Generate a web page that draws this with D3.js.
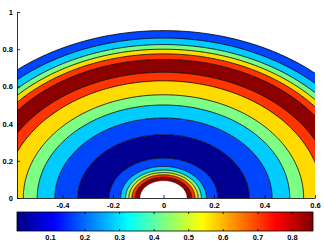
<!DOCTYPE html>
<meta charset="utf-8">
<html>
<head>
  <title>Contour plot</title>
  <script src="https://cdn.jsdelivr.net/npm/d3@7"></script>
  <style>
    body { margin: 0; background: #fff; }
    text { font-family: Arial, "Liberation Sans", sans-serif; font-size: 7.5px; font-weight: bold; fill: #000; }
    .axis path, .axis line { stroke: #000; stroke-width: 0.8px; }
  </style>
</head>
<body>
<div id="chart"></div>
<script>
// radius of each contour edge, from the hole outwards
var ringEdges = [0.093, 0.112, 0.125, 0.137, 0.15, 0.17, 0.215, 0.34, 0.43, 0.50,
                 0.555, 0.63, 0.676, 0.745, 0.775, 0.80, 0.825, 0.86, 0.9];
// colour band of each ring between two edges
var ringBand = [6, 5, 4, 3, 2, 1, 0, 1, 2, 3, 4, 5, 6, 5, 4, 3, 2, 1];
// value on the colour scale used to fill each band
var bandValue = [0.02, 0.17, 0.283, 0.43, 0.57, 0.71, 0.85];

var xTicks = [-0.4, -0.2, 0, 0.2, 0.4, 0.6];
var yTicks = [0, 0.2, 0.4, 0.6, 0.8, 1];
var cTicks = [0.1, 0.2, 0.3, 0.4, 0.5, 0.6, 0.7, 0.8];
var cRange = [0.0045, 0.861];

var width = 324, height = 247;

var x = d3.scaleLinear().domain([-0.58, 0.6]).range([17, 315]);
var y = d3.scaleLinear().domain([0, 1]).range([198, 12]);
var cx = d3.scaleLinear().domain(cRange).range([17, 313]);

// jet colormap
var jetStops = [0, 0.125, 0.375, 0.625, 0.875, 1];
var jet = d3.scaleLinear()
  .domain(jetStops.map(function(t) { return cRange[0] + t * (cRange[1] - cRange[0]); }))
  .range(["#000080", "#0000ff", "#00ffff", "#ffff00", "#ff0000", "#800000"])
  .clamp(true);

var svg = d3.select("#chart").append("svg")
  .attr("width", width)
  .attr("height", height);

svg.append("clipPath").attr("id", "plotclip")
  .append("rect")
  .attr("x", x(-0.58)).attr("y", y(1))
  .attr("width", x(0.6) - x(-0.58)).attr("height", y(0) - y(1));

var line = d3.line();
var angles = d3.range(0, 181).map(function(a) { return a * Math.PI / 180; });

function arcPoints(r) {
  return angles.map(function(t) { return [x(r * Math.cos(t)), y(r * Math.sin(t))]; });
}

var plot = svg.append("g").attr("clip-path", "url(#plotclip)");

plot.selectAll("path.ring")
  .data(ringBand)
  .enter().append("path")
  .attr("class", "ring")
  .attr("d", function(b, i) {
    var outer = arcPoints(ringEdges[i + 1]);
    var inner = arcPoints(ringEdges[i]).reverse();
    return line(outer.concat(inner)) + "Z";
  })
  .style("fill", function(b) { return jet(bandValue[b]); })
  .style("stroke", "none");

plot.selectAll("path.contour")
  .data(ringEdges)
  .enter().append("path")
  .attr("class", "contour")
  .attr("d", function(r) { return line(arcPoints(r)); })
  .style("fill", "none")
  .style("stroke", "#000")
  .style("stroke-width", function(r, i) { return i == 0 ? 0.3 : 0.8; });

// axes
svg.append("g").attr("class", "axis")
  .attr("transform", "translate(" + x(-0.58) + ",0)")
  .call(d3.axisLeft(y).tickValues(yTicks).tickSize(-3).tickSizeOuter(0).tickPadding(4)
    .tickFormat(function(d) { return String(d); }));

svg.append("g").attr("class", "axis")
  .attr("transform", "translate(0," + y(0) + ")")
  .call(d3.axisBottom(x).tickValues(xTicks).tickSize(-3).tickSizeOuter(0).tickPadding(5)
    .tickFormat(function(d) { return String(d); }));

// colorbar
var grad = svg.append("defs").append("linearGradient").attr("id", "jetgrad");
grad.selectAll("stop")
  .data(d3.range(0, 65))
  .enter().append("stop")
  .attr("offset", function(i) { return (i / 64 * 100) + "%"; })
  .attr("stop-color", function(i) { return jet(cRange[0] + i / 64 * (cRange[1] - cRange[0])); });

var cbTop = 212, cbBottom = 231;
svg.append("rect")
  .attr("x", cx(cRange[0])).attr("y", cbTop)
  .attr("width", cx(cRange[1]) - cx(cRange[0])).attr("height", cbBottom - cbTop)
  .style("fill", "url(#jetgrad)")
  .style("stroke", "#000").style("stroke-width", 0.8);

svg.append("g").attr("class", "axis")
  .attr("transform", "translate(0," + cbBottom + ")")
  .call(d3.axisBottom(cx).tickValues(cTicks).tickSize(-2).tickSizeOuter(0).tickPadding(4)
    .tickFormat(function(d) { return String(d); }))
  .call(function(g) { g.select(".domain").remove(); });

svg.append("g").attr("class", "axis")
  .attr("transform", "translate(0," + cbTop + ")")
  .call(d3.axisTop(cx).tickValues(cTicks).tickSize(-2).tickSizeOuter(0).tickFormat(""))
  .call(function(g) { g.select(".domain").remove(); });

svg.selectAll(".axis").attr("font-size", null).attr("font-family", null);
</script>
</body>
</html>
